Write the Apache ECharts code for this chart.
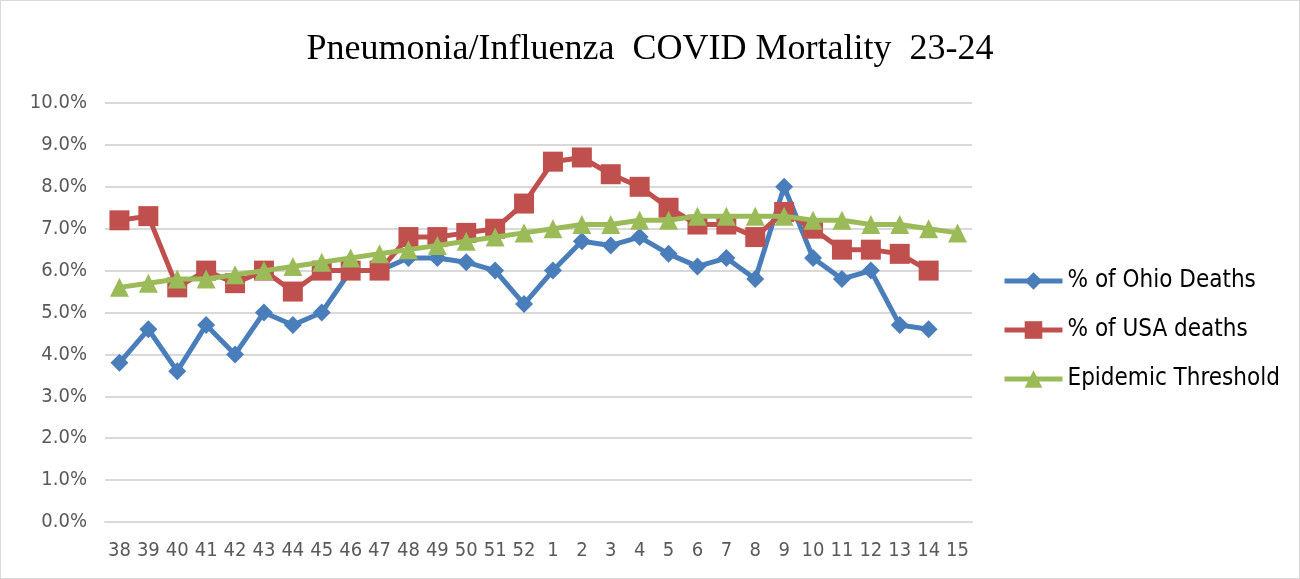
<!DOCTYPE html>
<html>
<head>
<meta charset="utf-8">
<title>Pneumonia/Influenza COVID Mortality 23-24</title>
<script src="https://cdn.jsdelivr.net/npm/echarts@6/dist/echarts.min.js"></script>
<style>
html, body { margin: 0; padding: 0; background: #fff; }
#main { width: 1298px; height: 577px; border: 1px solid #d9d9d9; }
</style>
</head>
<body>
<div id="main"></div>
<script>
var weeks = ['38','39','40','41','42','43','44','45','46','47','48','49','50','51','52',
             '1','2','3','4','5','6','7','8','9','10','11','12','13','14','15'];

// percent values
var ohioDeaths = [3.8, 4.6, 3.6, 4.7, 4.0, 5.0, 4.7, 5.0, 6.0, 6.0, 6.3, 6.3, 6.2, 6.0, 5.2,
                  6.0, 6.7, 6.6, 6.8, 6.4, 6.1, 6.3, 5.8, 8.0, 6.3, 5.8, 6.0, 4.7, 4.6];
var usaDeaths = [7.2, 7.3, 5.6, 6.0, 5.7, 6.0, 5.5, 6.0, 6.0, 6.0, 6.8, 6.8, 6.9, 7.0, 7.6,
                 8.6, 8.7, 8.3, 8.0, 7.5, 7.1, 7.1, 6.8, 7.4, 7.0, 6.5, 6.5, 6.4, 6.0];
var threshold = [5.6, 5.7, 5.8, 5.8, 5.9, 6.0, 6.1, 6.2, 6.3, 6.4, 6.5, 6.6, 6.7, 6.8, 6.9,
                 7.0, 7.1, 7.1, 7.2, 7.2, 7.3, 7.3, 7.3, 7.3, 7.2, 7.2, 7.1, 7.1, 7.0, 6.9];

var myChart = echarts.init(document.getElementById('main'));

var labelFont = '"Liberation Sans Narrow", "DejaVu Sans Condensed", "Open Sans", sans-serif';

var option = {
    backgroundColor: '#fff',
    animation: false,
    title: {
        text: 'Pneumonia/Influenza  COVID Mortality  23-24',
        left: 'center',
        top: 26,
        textStyle: {
            fontFamily: '"Liberation Serif", serif',
            fontWeight: 'normal',
            fontSize: 36,
            color: '#000'
        }
    },
    legend: {
        orient: 'vertical',
        left: 996,
        top: 263,
        itemGap: 25,
        itemWidth: 58,
        itemHeight: 22,
        lineStyle: { width: 5 },
        textStyle: {
            fontFamily: labelFont,
            fontSize: 24,
            color: '#000'
        },
        data: ['% of Ohio Deaths', '% of USA deaths', 'Epidemic Threshold']
    },
    grid: {
        left: 104,
        right: 327,
        top: 102,
        bottom: 56
    },
    xAxis: {
        type: 'category',
        data: weeks,
        boundaryGap: true,
        axisLine: { show: true, lineStyle: { color: '#d9d9d9', width: 2 } },
        axisTick: { show: false },
        axisLabel: {
            interval: 0,
            margin: 19,
            fontFamily: labelFont,
            fontSize: 20,
            color: '#595959'
        }
    },
    yAxis: {
        type: 'value',
        min: 0,
        max: 10,
        interval: 1,
        axisLine: { show: false },
        axisTick: { show: false },
        splitLine: { lineStyle: { color: '#d9d9d9', width: 2 } },
        axisLabel: {
            margin: 18,
            fontFamily: labelFont,
            fontSize: 20,
            color: '#595959',
            formatter: function (v) { return v.toFixed(1) + '%'; }
        }
    },
    series: [
        {
            name: '% of Ohio Deaths',
            type: 'line',
            data: ohioDeaths,
            symbol: 'diamond',
            symbolSize: 18,
            lineStyle: { width: 5, color: '#4a7ebb' },
            itemStyle: { color: '#4a7ebb' },
            z: 3
        },
        {
            name: '% of USA deaths',
            type: 'line',
            data: usaDeaths,
            symbol: 'rect',
            symbolSize: 20,
            lineStyle: { width: 5, color: '#c0504d' },
            itemStyle: { color: '#c0504d' },
            z: 4
        },
        {
            name: 'Epidemic Threshold',
            type: 'line',
            data: threshold,
            symbol: 'triangle',
            symbolSize: 19,
            lineStyle: { width: 5, color: '#9bbb59' },
            itemStyle: { color: '#9bbb59' },
            z: 5
        }
    ]
};

myChart.setOption(option);
</script>
</body>
</html>
